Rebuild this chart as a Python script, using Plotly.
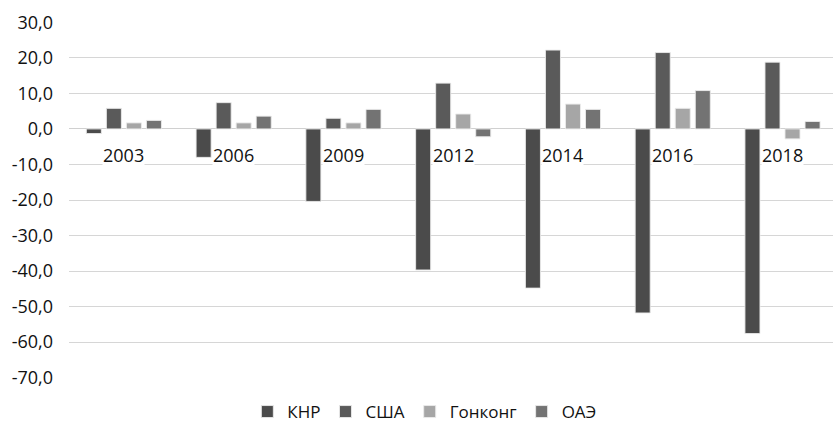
import plotly.graph_objects as go

years = ["2003", "2006", "2009", "2012", "2014", "2016", "2018"]
series_names = ["КНР", "США", "Гонконг", "ОАЭ"]
knr = [-1.3, -8.0, -20.4, -39.7, -44.8, -51.8, -57.6]
usa = [5.8, 7.4, 3.0, 12.9, 22.2, 21.5, 18.8]
hk = [1.7, 1.7, 1.7, 4.2, 7.0, 5.8, -2.8]
uae = [2.4, 3.6, 5.5, -2.2, 5.5, 10.8, 2.1]
colors = ["#4b4b4b", "#5a5a5a", "#a6a6a6", "#737373"]

y_ticks = [30, 20, 10, 0, -10, -20, -30, -40, -50, -60, -70]
y_ticktext = ["30,0", "20,0", "10,0", "0,0", "-10,0", "-20,0", "-30,0",
              "-40,0", "-50,0", "-60,0", "-70,0"]

FONT = "Open Sans"
TXT = "#111111"

fig = go.Figure()
for name, vals, col in zip(series_names, [knr, usa, hk, uae], colors):
    fig.add_trace(go.Bar(
        x=list(range(len(years))), y=vals, name=name,
        marker=dict(color=col, line=dict(color="rgba(235,235,235,0.9)", width=1)),
    ))

# category labels just below the zero line, with white background
for i, yr in enumerate(years):
    fig.add_annotation(
        x=i, y=0, xref="x", yref="y", text=yr, showarrow=False,
        yshift=-26, yanchor="middle", xanchor="center",
        bgcolor="white", borderpad=0,
        font=dict(family=FONT, size=18, color=TXT),
    )

fig.update_layout(
    width=833, height=430,
    margin=dict(l=69, r=0, t=22, b=52, autoexpand=False),
    paper_bgcolor="white", plot_bgcolor="white",
    barmode="group", bargap=0.27, bargroupgap=0.25,
    font=dict(family=FONT, size=18, color=TXT),
    showlegend=True,
    legend=dict(
        orientation="h", xref="container", yref="container",
        x=0.51, xanchor="center", y=0.0, yanchor="bottom",
        font=dict(family=FONT, size=17, color=TXT),
        itemwidth=30, tracegroupgap=0,
    ),
)
fig.update_xaxes(
    range=[-0.5, 6.46], showticklabels=False, showgrid=False,
    zeroline=False, showline=False, ticks="",
)
fig.update_yaxes(
    range=[-70.1, 30.1], tickvals=y_ticks, ticktext=y_ticktext,
    showgrid=True, gridcolor="#d6d6d6", gridwidth=1,
    zeroline=True, zerolinecolor="#d0d0d0", zerolinewidth=1,
    showline=False, ticks="", ticklabelstandoff=15,
    tickfont=dict(family=FONT, size=18, color=TXT),
)

fig.write_html(
    "out.html",
    config={"displayModeBar": False},
    post_script="document.body.style.margin='0';document.body.style.overflow='hidden';",
)
